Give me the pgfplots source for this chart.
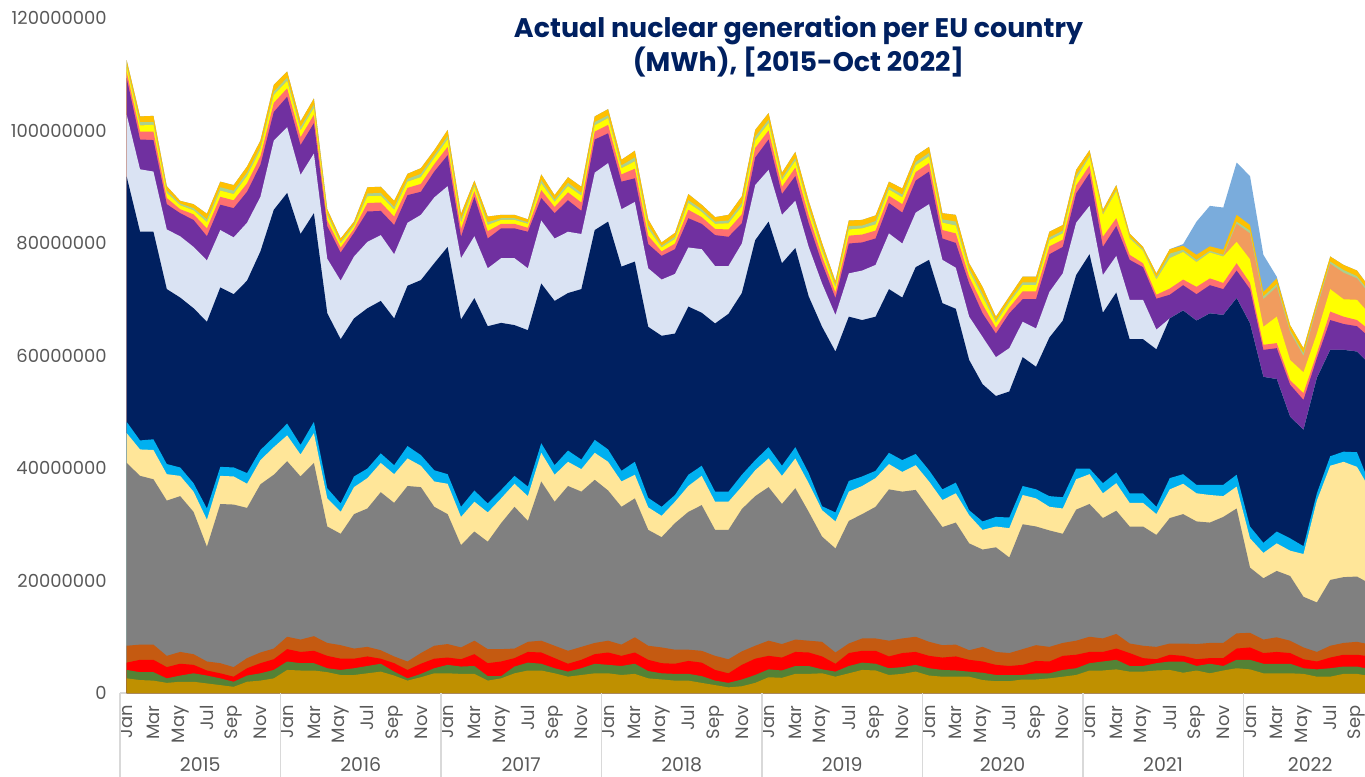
\documentclass[border=0pt]{standalone}
\usepackage{fontspec}
\setmainfont{Poppins}
\usepackage{pgfplots}
\usepackage{pgfplotstable}
\pgfplotsset{compat=1.18}
\usetikzlibrary{calc}

\definecolor{cGold}{HTML}{BF9000}
\definecolor{cGreen}{HTML}{548235}
\definecolor{cRed}{HTML}{FF0000}
\definecolor{cBrown}{HTML}{C55A11}
\definecolor{cGray}{HTML}{808080}
\definecolor{cLYellow}{HTML}{FFE699}
\definecolor{cCyan}{HTML}{00B0F0}
\definecolor{cNavy}{HTML}{002060}
\definecolor{cLav}{HTML}{DAE3F3}
\definecolor{cPurple}{HTML}{7030A0}
\definecolor{cSalmon}{HTML}{FF7070}
\definecolor{cYellow}{HTML}{FFFF00}
\definecolor{cPeach}{HTML}{F19C5E}
\definecolor{cPGreen}{HTML}{A9D18E}
\definecolor{cGoldTop}{HTML}{FFC000}
\definecolor{cLBlue}{HTML}{7AACDC}
\definecolor{cTitle}{HTML}{002060}
\definecolor{cLabel}{HTML}{595959}
\definecolor{cSep}{HTML}{D9D9D9}

% cumulative tops of each layer, million MWh, month 0 = Jan 2015
\pgfplotstableread{
m go gr rd br gy ly cy nv lv pu sa ye pe pg tt lb
0 2.6 4.1 5.4 8.4 40.9 46.2 48.2 91.8 102.8 109.3 110.4 111.3 111.3 111.7 112.5 112.5
1 2.3 3.7 5.9 8.6 38.6 43.3 44.9 82.0 93.1 98.4 99.8 100.9 100.9 101.5 102.5 102.5
2 2.2 3.7 5.9 8.6 38.0 43.2 45.1 82.0 92.7 98.3 99.8 101.0 101.0 101.5 102.6 102.6
3 1.8 2.6 4.6 6.6 34.2 38.9 40.7 71.8 82.4 86.9 88.0 88.9 88.9 89.3 90.1 90.1
4 2.0 3.1 5.2 7.3 35.0 38.6 40.1 70.3 81.2 85.3 86.0 86.7 86.7 87.0 87.5 87.5
5 2.0 3.5 5.0 6.9 32.2 35.8 37.3 68.4 79.3 84.1 85.1 85.8 85.8 86.2 86.9 86.9
6 1.7 3.1 4.0 5.6 26.0 30.8 32.8 66.0 76.9 81.2 82.6 83.7 83.7 84.2 85.2 85.2
7 1.4 2.6 3.5 5.3 33.6 38.6 40.2 72.1 82.3 86.8 88.2 89.3 89.3 89.9 90.9 90.9
8 1.1 2.0 2.9 4.6 33.5 38.5 40.1 70.9 81.0 86.2 87.6 88.7 88.7 89.3 90.3 90.3
9 2.0 3.1 4.4 6.2 32.9 37.2 39.1 73.3 83.6 89.1 90.6 91.9 91.9 92.5 93.6 93.6
10 2.2 3.5 5.3 7.2 37.1 41.4 43.2 78.5 88.2 93.9 95.4 96.6 96.6 97.1 98.2 98.2
11 2.6 4.1 6.0 7.9 38.8 43.7 45.5 85.9 98.2 103.3 104.9 106.3 106.3 106.9 108.1 108.1
12 4.1 5.6 7.8 10.0 41.2 45.8 47.9 88.9 100.6 106.0 107.5 108.8 108.8 109.4 110.5 110.5
13 4.0 5.3 7.3 9.5 38.5 42.4 44.1 81.6 92.1 97.4 98.8 100.0 100.0 100.6 101.6 101.6
14 4.0 5.3 7.5 10.1 40.9 46.2 48.2 85.3 95.9 101.3 102.8 104.0 104.0 104.6 105.7 105.7
15 3.7 4.4 6.6 8.9 29.6 34.6 36.4 67.5 77.2 83.0 84.0 84.9 84.9 85.3 86.0 86.0
16 3.2 4.1 6.1 8.5 28.3 32.2 33.7 62.9 73.3 78.3 79.2 79.9 79.9 80.2 80.8 80.8
17 3.2 4.4 6.1 7.9 31.8 36.6 38.5 66.6 77.6 81.8 82.5 83.0 83.0 83.3 83.8 83.8
18 3.5 4.8 6.5 8.2 32.8 38.2 39.9 68.4 80.2 85.6 87.1 88.3 88.3 88.8 89.9 89.9
19 3.8 5.2 6.1 7.6 35.7 40.9 42.6 69.7 81.4 85.7 87.2 88.4 88.4 88.9 90.0 90.0
20 3.1 3.8 5.3 6.5 33.8 38.9 40.5 66.6 78.0 83.2 84.7 85.9 85.9 86.4 87.5 87.5
21 2.2 2.6 4.1 5.6 36.8 41.7 43.9 72.4 83.6 88.5 89.8 90.9 90.9 91.4 92.3 92.3
22 2.8 3.4 5.2 7.1 36.6 40.4 42.3 73.4 85.0 89.1 90.5 91.7 91.7 92.3 93.3 93.3
23 3.5 4.4 6.1 8.4 33.1 37.6 39.6 76.4 88.1 92.7 94.0 95.1 95.1 95.6 96.5 96.5
24 3.5 5.0 6.3 8.7 31.8 37.2 38.9 79.3 90.1 95.6 97.1 98.4 98.4 99.0 100.1 100.1
25 3.4 4.7 6.0 8.1 26.3 31.3 33.1 66.4 77.3 81.1 82.5 83.6 83.6 84.2 85.2 85.2
26 3.4 4.8 6.9 9.3 28.7 34.0 36.0 70.2 81.2 88.2 89.2 90.0 90.0 90.4 91.1 91.1
27 2.2 3.0 5.3 7.8 26.9 32.1 33.7 65.2 75.5 80.8 82.1 83.2 83.2 83.7 84.7 84.7
28 2.6 3.0 5.6 7.8 30.2 34.6 36.1 65.8 77.3 82.6 83.4 84.1 84.1 84.4 85.0 85.0
29 3.5 4.7 6.2 7.9 33.1 37.2 38.6 65.4 77.3 82.6 83.4 84.1 84.1 84.4 85.0 85.0
30 4.0 5.4 7.3 9.1 30.6 35.0 36.7 64.5 75.5 82.0 82.7 83.4 83.4 83.7 84.2 84.2
31 4.0 5.2 7.2 9.3 37.6 42.7 44.4 72.8 84.0 88.0 89.4 90.6 90.6 91.2 92.2 92.2
32 3.5 4.4 6.2 8.4 34.0 38.8 40.5 69.7 80.8 85.3 86.4 87.3 87.3 87.7 88.5 88.5
33 2.9 3.8 5.2 7.5 36.8 41.1 43.1 71.1 82.0 87.6 89.0 90.1 90.1 90.7 91.7 91.7
34 3.2 4.4 5.9 8.2 35.8 39.8 41.5 71.8 81.6 85.7 87.2 88.4 88.4 88.9 90.0 90.0
35 3.5 5.2 6.9 8.9 37.9 42.7 45.0 82.3 92.5 98.4 99.8 100.9 100.9 101.5 102.5 102.5
36 3.5 5.0 7.2 9.3 36.0 41.1 43.3 83.8 94.2 99.5 101.0 102.2 102.2 102.7 103.8 103.8
37 3.2 4.8 6.6 8.6 33.1 37.6 39.5 75.8 86.0 90.9 92.2 93.3 93.3 93.8 94.8 94.8
38 3.4 5.2 7.2 9.9 34.6 38.8 41.1 76.7 87.3 91.5 93.2 94.5 94.5 95.2 96.4 96.4
39 2.6 3.9 5.9 8.4 29.0 33.0 34.7 65.1 75.5 79.8 81.3 82.5 82.5 83.1 84.2 84.2
40 2.4 3.5 5.3 8.1 27.7 31.5 33.1 63.5 73.5 77.7 78.5 79.2 79.2 79.5 80.1 80.1
41 2.2 3.4 5.2 7.7 30.2 34.0 35.2 63.9 74.5 78.9 79.9 80.7 80.7 81.1 81.8 81.8
42 2.2 3.4 5.7 7.7 32.2 36.8 38.8 68.7 79.2 84.4 85.9 87.1 87.1 87.6 88.7 88.7
43 1.8 3.0 5.4 7.5 33.4 38.6 40.4 67.6 78.9 83.4 84.6 85.5 85.5 86.0 86.8 86.8
44 1.4 2.2 4.1 6.6 29.0 34.0 35.8 65.7 75.9 81.4 82.5 83.4 83.4 83.8 84.6 84.6
45 1.0 1.8 3.5 6.0 29.0 34.0 35.8 67.4 75.9 81.1 82.4 83.5 83.5 84.0 85.0 85.0
46 1.2 2.4 5.0 7.4 32.7 36.7 38.8 71.1 79.9 83.5 85.1 86.5 86.5 87.1 88.3 88.3
47 1.8 3.2 6.1 8.4 35.0 39.6 41.4 80.5 90.3 95.2 96.9 98.2 98.2 98.9 100.1 100.1
48 2.8 4.2 6.6 9.3 36.6 41.7 43.7 83.8 93.0 98.4 100.0 101.3 101.3 101.9 103.1 103.1
49 2.7 4.0 6.3 8.7 33.6 38.6 40.4 76.4 85.0 88.7 90.0 91.1 91.1 91.6 92.5 92.5
50 3.4 4.8 7.3 9.5 36.4 41.7 43.7 79.1 87.5 91.9 93.4 94.6 94.6 95.1 96.2 96.2
51 3.4 4.8 7.2 9.3 32.2 37.3 39.1 70.5 79.3 83.5 84.9 86.0 86.0 86.5 87.5 87.5
52 3.5 4.2 6.5 9.1 27.8 32.5 33.2 65.1 72.8 76.4 77.6 78.6 78.6 79.1 80.0 80.0
53 2.9 3.8 5.2 7.2 25.7 30.5 32.1 60.7 67.2 70.2 71.2 72.1 72.1 72.5 73.2 73.2
54 3.5 4.8 7.1 8.8 30.6 35.8 37.7 66.9 74.6 79.9 81.3 82.4 82.4 83.0 84.0 84.0
55 4.1 5.4 7.5 9.7 31.8 36.8 38.5 66.3 75.1 80.1 81.5 82.6 82.6 83.1 84.1 84.1
56 4.0 5.2 7.5 9.7 33.1 38.2 39.5 66.9 76.1 80.8 82.2 83.3 83.3 83.9 84.9 84.9
57 3.2 4.4 6.5 9.3 36.2 40.7 42.7 71.8 81.7 87.1 88.4 89.5 89.5 90.0 90.9 90.9
58 3.4 4.6 7.1 9.7 35.8 39.3 41.4 70.3 79.9 85.4 86.9 88.1 88.1 88.6 89.7 89.7
59 3.8 5.0 7.3 10.0 36.1 40.5 42.5 75.7 85.4 91.1 92.6 93.8 93.8 94.4 95.5 95.5
60 3.1 4.4 6.6 9.1 32.8 37.6 39.6 77.0 86.9 92.7 94.2 95.4 95.4 96.0 97.1 97.1
61 2.9 4.1 6.3 8.5 29.5 34.3 36.2 69.3 77.0 80.8 82.3 83.6 83.6 84.2 85.3 85.3
62 2.9 4.0 6.5 8.6 30.3 35.5 37.4 68.3 75.6 80.0 81.7 83.1 83.1 83.8 85.0 85.0
63 2.9 3.8 5.9 7.6 26.6 31.6 32.5 59.2 66.9 72.8 74.0 75.0 75.0 75.5 76.4 76.4
64 2.3 3.6 5.6 8.2 25.5 29.0 30.5 54.9 63.3 67.5 69.1 70.4 70.4 71.0 72.2 72.2
65 2.1 3.2 5.0 7.3 25.9 29.6 31.3 52.8 59.7 63.9 64.9 65.8 65.8 66.2 66.9 66.9
66 2.1 3.2 4.8 7.1 24.1 29.3 31.2 53.6 61.3 67.5 68.5 69.4 69.4 69.8 70.5 70.5
67 2.4 3.2 5.0 7.8 30.0 35.2 36.8 59.7 66.0 70.0 71.4 72.5 72.5 73.0 74.0 74.0
68 2.4 3.5 5.7 8.5 29.6 34.6 36.2 58.0 64.8 70.0 71.4 72.5 72.5 73.0 74.0 74.0
69 2.6 3.5 5.6 8.2 28.9 33.1 35.0 63.2 71.3 78.0 79.4 80.5 80.5 81.0 82.0 82.0
70 2.9 4.1 6.6 8.9 28.3 32.8 34.8 66.2 74.6 79.3 80.6 81.7 81.7 82.2 83.2 83.2
71 3.2 4.4 6.8 9.3 32.6 38.0 39.9 74.3 83.6 88.8 90.2 91.4 91.4 92.0 93.0 93.0
72 4.0 5.3 7.3 10.0 33.6 38.9 39.9 78.0 86.6 92.4 93.8 95.3 95.3 95.6 96.5 96.5
73 4.0 5.6 7.3 9.7 31.1 35.5 37.3 67.6 74.3 79.3 81.1 85.0 85.0 85.3 85.9 85.9
74 4.2 5.9 7.9 10.5 32.4 37.3 39.2 71.2 77.7 83.0 84.4 89.2 89.2 89.5 90.3 90.3
75 3.8 4.8 7.1 8.8 29.6 33.8 35.5 62.9 69.9 77.0 77.9 80.8 80.8 81.1 81.7 81.7
76 3.8 4.8 6.2 8.4 29.6 33.8 35.5 62.9 69.9 75.7 76.4 78.6 78.6 78.9 79.3 79.3
77 4.0 5.3 6.0 8.2 28.1 31.8 33.1 61.1 64.6 70.1 70.8 73.5 73.5 73.9 74.6 74.6
78 4.1 5.6 6.8 8.8 31.1 36.2 38.2 66.6 66.6 70.8 71.9 77.3 77.3 78.1 78.9 78.9
79 3.6 5.6 6.6 8.8 31.8 37.2 38.9 68.0 68.0 72.5 73.5 78.4 78.4 78.8 79.5 79.8
80 4.0 4.8 6.0 8.7 30.5 35.5 37.0 66.2 66.2 70.9 72.2 76.6 76.6 77.0 77.9 83.8
81 3.5 5.2 6.2 8.9 30.3 35.2 37.0 67.5 67.5 72.5 73.7 78.3 78.3 78.6 79.4 86.6
82 4.0 4.8 6.2 8.9 31.3 35.0 37.0 67.2 67.2 71.8 72.9 77.6 77.6 77.9 78.8 86.3
83 4.4 5.9 7.9 10.6 32.8 36.7 38.8 70.2 70.2 75.1 76.4 80.2 83.4 83.8 85.0 94.3
84 4.2 5.9 8.1 10.7 22.3 27.5 29.6 65.7 65.7 71.8 72.9 77.1 81.7 82.2 83.2 91.9
85 3.5 5.2 7.1 9.5 20.4 24.9 26.7 56.2 56.2 61.0 61.9 65.1 70.0 70.5 71.3 77.9
86 3.5 5.2 7.3 9.9 21.7 26.6 28.7 55.8 55.8 61.3 62.2 66.9 72.2 72.7 73.7 74.0
87 3.5 5.2 7.1 9.3 20.8 25.3 27.5 49.1 49.1 54.8 55.6 59.2 64.1 64.5 65.4 65.4
88 3.4 4.4 6.0 8.1 17.1 24.7 26.1 46.8 46.8 52.1 53.3 57.0 59.9 60.4 61.3 61.3
89 2.9 4.2 5.6 7.3 16.1 34.2 35.5 56.0 56.0 59.5 60.4 63.9 68.4 68.8 69.6 69.6
90 2.9 4.4 6.3 8.4 20.1 40.4 42.1 61.0 61.0 66.3 67.8 71.8 76.3 76.7 77.6 77.6
91 3.4 4.7 6.8 8.9 20.6 41.1 42.9 61.0 61.0 65.6 66.9 70.0 74.7 75.2 76.1 76.1
92 3.4 4.7 6.8 9.1 20.7 40.2 42.8 60.7 60.7 65.2 66.3 69.9 73.7 74.1 75.1 75.1
93 3.0 4.2 6.5 8.6 19.4 36.1 36.9 58.3 58.3 63.1 64.4 67.2 70.7 71.1 71.9 71.9
}\nucdata

\begin{document}
\begin{tikzpicture}
\begin{axis}[
  name=main,
  scale only axis,
  width=622.5bp, height=337.5bp,
  xmin=-0.5, xmax=92.6,
  ymin=0, ymax=120,
  axis x line*=bottom, axis y line*=left,
  x axis line style={draw=cSep, line width=0.8bp},
  y axis line style={draw=none},
  major tick length=0pt,
  xtick={0,2,...,92},
  xticklabels={Jan,Mar,May,Jul,Sep,Nov,Jan,Mar,May,Jul,Sep,Nov,Jan,Mar,May,Jul,Sep,Nov,
    Jan,Mar,May,Jul,Sep,Nov,Jan,Mar,May,Jul,Sep,Nov,Jan,Mar,May,Jul,Sep,Nov,
    Jan,Mar,May,Jul,Sep,Nov,Jan,Mar,May,Jul,Sep},
  xticklabel style={rotate=90, anchor=east, inner sep=0pt, text=cLabel,
    font=\fontsize{9}{9}\selectfont},
  xticklabel shift=6bp,
  ytick={0,20,40,60,80,100,120},
  yticklabels={0,20000000,40000000,60000000,80000000,100000000,120000000},
  yticklabel style={anchor=east, inner sep=0pt, text=cLabel,
    font=\fontsize{9}{9}\selectfont},
  yticklabel shift=6.5bp,
  clip mode=individual,
]
\addplot[fill=cLBlue, draw=none] table[x=m, y=lb] {\nucdata} \closedcycle;
\addplot[fill=cGoldTop, draw=none] table[x=m, y=tt] {\nucdata} \closedcycle;
\addplot[fill=cPGreen, draw=none] table[x=m, y=pg] {\nucdata} \closedcycle;
\addplot[fill=cPeach, draw=none] table[x=m, y=pe] {\nucdata} \closedcycle;
\addplot[fill=cYellow, draw=none] table[x=m, y=ye] {\nucdata} \closedcycle;
\addplot[fill=cSalmon, draw=none] table[x=m, y=sa] {\nucdata} \closedcycle;
\addplot[fill=cPurple, draw=none] table[x=m, y=pu] {\nucdata} \closedcycle;
\addplot[fill=cLav, draw=none] table[x=m, y=lv] {\nucdata} \closedcycle;
\addplot[fill=cNavy, draw=none] table[x=m, y=nv] {\nucdata} \closedcycle;
\addplot[fill=cCyan, draw=none] table[x=m, y=cy] {\nucdata} \closedcycle;
\addplot[fill=cLYellow, draw=none] table[x=m, y=ly] {\nucdata} \closedcycle;
\addplot[fill=cGray, draw=none] table[x=m, y=gy] {\nucdata} \closedcycle;
\addplot[fill=cBrown, draw=none] table[x=m, y=br] {\nucdata} \closedcycle;
\addplot[fill=cRed, draw=none] table[x=m, y=rd] {\nucdata} \closedcycle;
\addplot[fill=cGreen, draw=none] table[x=m, y=gr] {\nucdata} \closedcycle;
\addplot[fill=cGold, draw=none] table[x=m, y=go] {\nucdata} \closedcycle;

% year separators and labels
\pgfplotsinvokeforeach{-0.5,11.5,23.5,35.5,47.5,59.5,71.5,83.5}{
  \draw[cSep, line width=0.8bp] (axis cs:#1,0) -- ([yshift=-42bp]axis cs:#1,0);
}
\tikzset{yearlab/.style={text=cLabel, inner sep=0pt, font=\fontsize{9.5}{9.5}\selectfont}}
\node[yearlab] at ([yshift=-36bp]axis cs:5.5,0) {2015};
\node[yearlab] at ([yshift=-36bp]axis cs:17.5,0) {2016};
\node[yearlab] at ([yshift=-36bp]axis cs:29.5,0) {2017};
\node[yearlab] at ([yshift=-36bp]axis cs:41.5,0) {2018};
\node[yearlab] at ([yshift=-36bp]axis cs:53.5,0) {2019};
\node[yearlab] at ([yshift=-36bp]axis cs:65.5,0) {2020};
\node[yearlab] at ([yshift=-36bp]axis cs:77.5,0) {2021};
\node[yearlab] at ([yshift=-36bp]axis cs:88.5,0) {2022};

\node[anchor=north, align=center, inner sep=0pt, text=cTitle,
  font=\bfseries\fontsize{13.5}{16}\selectfont] at ([yshift=1bp]rel axis cs:0.545,1)
  {Actual nuclear generation per EU country\\(MWh), [2015-Oct 2022]};
\end{axis}
\pgfresetboundingbox
\path[use as bounding box] ($(main.south west)+(-60bp,-42bp)$) rectangle ($(main.north east)+(0,9bp)$);
\end{tikzpicture}
\end{document}
